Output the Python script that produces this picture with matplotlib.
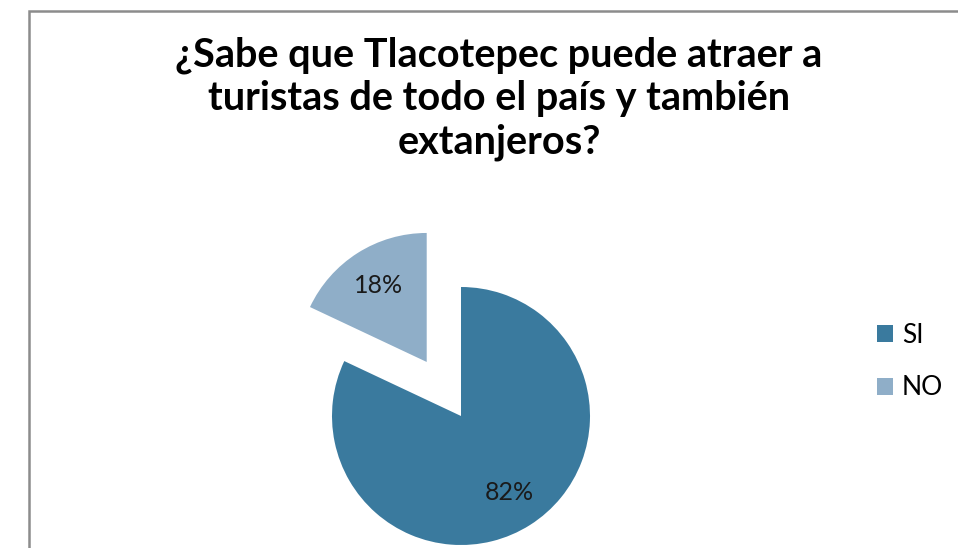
import matplotlib.pyplot as plt
import matplotlib.patches as mpatches

categories = ['SI', 'NO']
values = [82, 18]
colors = ['#3A7A9E', '#8FAEC8']
title = '¿Sabe que Tlacotepec puede atraer a\nturistas de todo el país y también\nextanjeros?'

W, H = 958, 548
fig = plt.figure(figsize=(W / 100, H / 100), dpi=100)
ax = fig.add_axes([0, 0, 1, 1])
ax.set_xlim(0, W)
ax.set_ylim(0, H)
ax.set_aspect('equal')
ax.axis('off')

wedges, texts, autotexts = ax.pie(
    values, colors=colors, startangle=90, counterclock=False,
    center=(461, H - 416), radius=129, explode=[0, 64],
    autopct='%1.0f%%', pctdistance=0.7,
    textprops={'fontsize': 18, 'family': 'Lato', 'color': '#1a1a1a'},
    frame=True)
ax.set_xlim(0, W)
ax.set_ylim(0, H)
ax.axis('off')

fig.text(499 / W, 1 - 36 / H, title, ha='center', va='top',
         fontsize=28.5, fontweight='bold', family='Lato', linespacing=1.22)

leg = ax.legend(wedges, categories, loc='upper left',
                bbox_to_anchor=(853 / W, 1 - 299 / H),
                bbox_transform=fig.transFigure, frameon=False,
                prop={'family': 'Lato', 'size': 19},
                handlelength=0.6, handleheight=0.6, handletextpad=0.35,
                labelspacing=1.05)

border = mpatches.Rectangle((29 / W, -0.1), 1.2, 1 - 11 / H + 0.1,
                            transform=fig.transFigure, fill=False,
                            edgecolor='#8c8c8c', linewidth=1.8, clip_on=False)
fig.patches.append(border)

fig.savefig('out.png', dpi=100, facecolor='white')
